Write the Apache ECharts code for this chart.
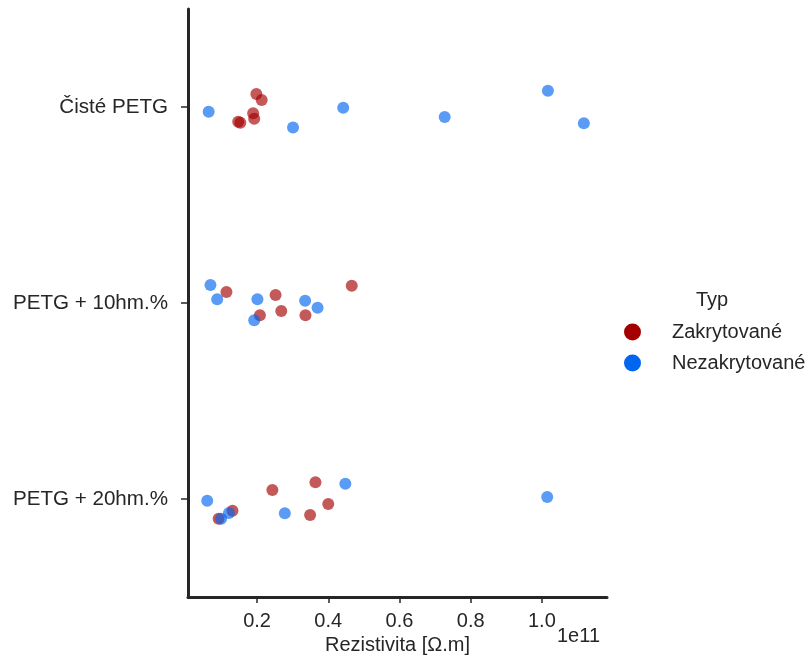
<!DOCTYPE html>
<html>
<head>
<meta charset="utf-8">
<script src="https://cdn.jsdelivr.net/npm/echarts@6/dist/echarts.min.js"></script>
<style>
html,body{margin:0;padding:0;background:#fff;}
#main{width:812px;height:657px;}
</style>
</head>
<body>
<div id="main"></div>
<script>
// kategorie (osa y)
var categories = ['Čisté PETG', 'PETG + 10hm.%', 'PETG + 20hm.%'];
var xTicks = [0.2, 0.4, 0.6, 0.8, 1.0];

// rezistivita v jednotkách 1e11 Ω.m, po kategoriich
var zakrytovaneVals = [
	[0.198, 0.213, 0.189, 0.192, 0.147, 0.153],
	[0.114, 0.252, 0.208, 0.268, 0.336, 0.466],
	[0.092, 0.131, 0.243, 0.364, 0.400, 0.349]
];
var nezakrytovaneVals = [
	[0.064, 0.301, 0.442, 0.727, 1.017, 1.118],
	[0.069, 0.088, 0.201, 0.192, 0.335, 0.370],
	[0.060, 0.099, 0.121, 0.278, 0.448, 1.015]
];
// jitter (posun v rámci kategorie)
var zakrytovaneJit = [
	[-0.066, -0.036, 0.032, 0.060, 0.075, 0.080],
	[-0.056, -0.041, 0.063, 0.041, 0.063, -0.088],
	[0.101, 0.060, -0.046, -0.085, 0.026, 0.082]
];
var nezakrytovaneJit = [
	[0.024, 0.104, 0.004, 0.051, -0.083, 0.083],
	[-0.092, -0.019, -0.019, 0.088, -0.012, 0.024],
	[0.009, 0.101, 0.071, 0.073, -0.078, -0.010]
];

function buildPoints(vals, jit) {
	var out = [];
	for (var c = 0; c < vals.length; c++) {
		for (var i = 0; i < vals[c].length; i++) {
			out.push([vals[c][i], c + jit[c][i]]);
		}
	}
	return out;
}

var txt = '#262626';
var font = 'Liberation Sans, Arial, sans-serif';

var chart = echarts.init(document.getElementById('main'));
var option = {
	backgroundColor: '#fff',
	animation: false,
	grid: { left: 188, top: 9, right: 205, bottom: 60, outerBoundsMode: 'none' },
	xAxis: {
		type: 'value',
		min: 0.006,
		max: 1.183,
		name: 'Rezistivita [Ω.m]',
		nameLocation: 'middle',
		nameGap: 38,
		nameTextStyle: { color: txt, fontSize: 20, fontFamily: font },
		axisLine: { show: true, onZero: false, lineStyle: { color: txt, width: 3 } },
		axisTick: { show: true, length: 6, customValues: xTicks, lineStyle: { color: txt, width: 1.5 } },
		axisLabel: {
			customValues: xTicks,
			color: txt, fontSize: 20, fontFamily: font, margin: 14,
			formatter: function (v) { return v.toFixed(1); }
		},
		splitLine: { show: false }
	},
	yAxis: {
		type: 'value',
		min: -0.5,
		max: 2.5,
		inverse: true,
		axisLine: { show: true, onZero: false, lineStyle: { color: txt, width: 3 } },
		axisTick: { show: true, length: 7, customValues: [0, 1, 2], lineStyle: { color: txt, width: 1.5 } },
		axisLabel: {
			customValues: [0, 1, 2],
			color: txt, fontSize: 20.6, fontFamily: font, margin: 20,
			formatter: function (v) { return categories[Math.round(v)]; }
		},
		splitLine: { show: false }
	},
	legend: {
		orient: 'vertical',
		left: 619,
		top: 317,
		icon: 'circle',
		itemWidth: 17,
		itemHeight: 17,
		itemGap: 11,
		textStyle: { color: txt, fontSize: 20, fontFamily: font, padding: [0, 0, 0, 26] },
		data: [
			{ name: 'Zakrytované', itemStyle: { color: '#a50000', opacity: 1 } },
			{ name: 'Nezakrytované', itemStyle: { color: '#0066f0', opacity: 1 } }
		]
	},
	graphic: [
		{ type: 'text', left: 696, top: 290, style: { text: 'Typ', fill: txt, fontSize: 20, fontFamily: font } },
		{ type: 'text', left: 557, top: 626, style: { text: '1e11', fill: txt, fontSize: 20, fontFamily: font } }
	],
	series: [
		{
			name: 'Zakrytované',
			type: 'scatter',
			symbolSize: 12,
			itemStyle: { color: '#a50000', opacity: 0.65 },
			data: buildPoints(zakrytovaneVals, zakrytovaneJit)
		},
		{
			name: 'Nezakrytované',
			type: 'scatter',
			symbolSize: 12,
			itemStyle: { color: '#0066f0', opacity: 0.65 },
			data: buildPoints(nezakrytovaneVals, nezakrytovaneJit)
		}
	]
};
chart.setOption(option);
</script>
</body>
</html>
